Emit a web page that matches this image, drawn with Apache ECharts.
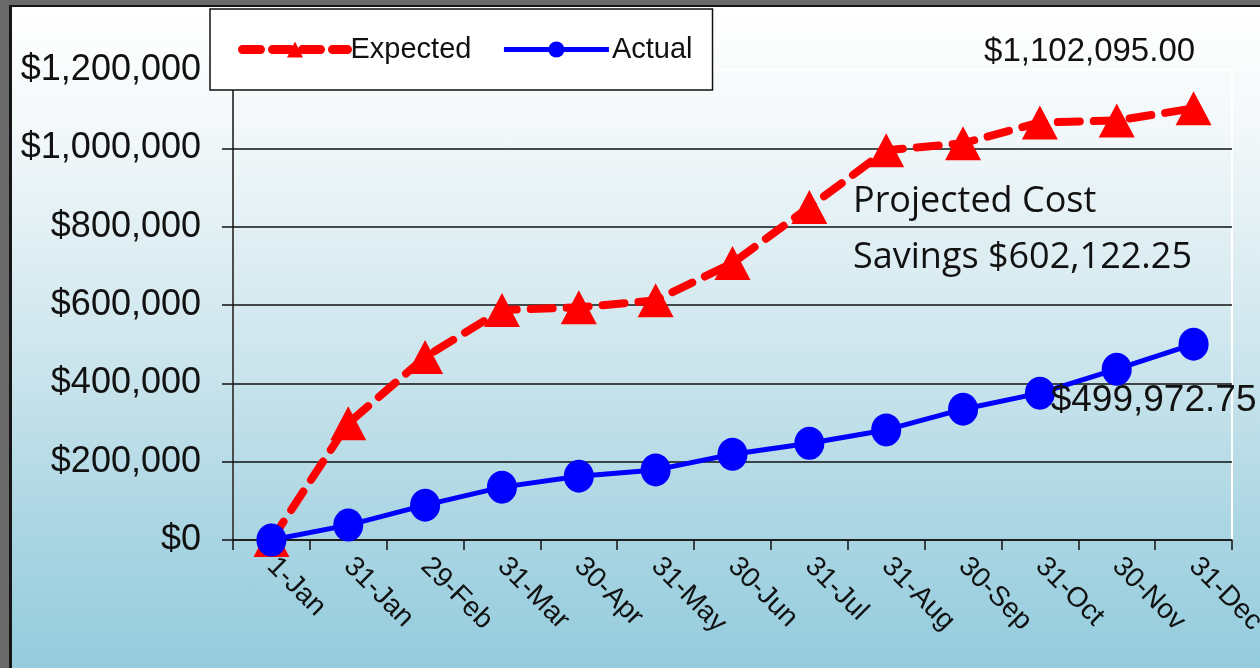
<!DOCTYPE html>
<html>
<head>
<meta charset="utf-8">
<script src="https://cdn.jsdelivr.net/npm/echarts@6/dist/echarts.min.js"></script>
<style>
  html, body { margin: 0; padding: 0; }
  #frame { position: absolute; left: 0; top: 0; width: 1260px; height: 668px; background: #6a6a6a; }
  #bg {
    position: absolute; left: 9px; top: 5px; right: 0; bottom: 0;
    border-left: 3px solid #151515; border-top: 2px solid #151515;
    background: linear-gradient(to bottom, #ffffff 0%, #f3f8fa 18%, #d0e7ee 50%, #acd6e3 78%, #94ccdd 100%);
  }
  #chart { position: absolute; left: 0; top: 0; width: 1260px; height: 668px; }
</style>
</head>
<body>
<div id="frame"><div id="bg"></div></div>
<div id="chart"></div>
<script>
  // categories and values
  var dates = ['1-Jan', '31-Jan', '29-Feb', '31-Mar', '30-Apr', '31-May', '30-Jun',
               '31-Jul', '31-Aug', '30-Sep', '31-Oct', '30-Nov', '31-Dec'];
  var expected = [0, 298000, 467000, 587000, 594000, 612000, 707000,
                  850000, 995000, 1013000, 1066000, 1071000, 1102095.00];
  var actual = [0, 38000, 89000, 135000, 163000, 179000, 219000,
                247000, 281000, 334000, 375000, 436000, 499972.75];
  var yTicks = [0, 200000, 400000, 600000, 800000, 1000000, 1200000];

  function money(v, dec) {
    return '$' + v.toLocaleString('en-US', { minimumFractionDigits: dec, maximumFractionDigits: dec });
  }

  var lastE = expected[expected.length - 1];
  var lastA = actual[actual.length - 1];
  var savings = lastE - lastA;

  var expData = expected.map(function (v, i) {
    if (i !== expected.length - 1) return v;
    return {
      value: v,
      label: {
        show: true, position: 'top', distance: 5, offset: [-104, -18],
        formatter: money(v, 2), color: '#111', fontSize: 33, fontFamily: 'Liberation Sans, Arial'
      }
    };
  });
  var actData = actual.map(function (v, i) {
    if (i !== actual.length - 1) return v;
    return {
      value: v,
      label: {
        show: true, position: 'bottom', distance: 5, offset: [-40, 17],
        formatter: money(v, 2), color: '#111', fontSize: 37, fontFamily: 'Liberation Sans, Arial'
      }
    };
  });

  var chart = echarts.init(document.getElementById('chart'));
  var options = {
    animation: false,
    textStyle: { fontFamily: 'Liberation Sans, Arial' },
    grid: {
      left: 233, right: 28, top: 70, bottom: 128,
      outerBoundsMode: 'none', containLabel: false,
      show: true, borderColor: '#ffffff', borderWidth: 2, backgroundColor: 'transparent'
    },
    legend: {
      left: 210, top: 9, width: 490, height: 81,
      padding: [26, 20, 26, 28],
      backgroundColor: '#fff', borderColor: '#111', borderWidth: 1.5,
      itemWidth: 105, itemHeight: 20, itemGap: 30,
      textStyle: { fontSize: 29, color: '#111', padding: [0, 0, 0, -2] },
      data: [
        { name: 'Expected', lineStyle: { width: 9, type: [18, 12], cap: 'round' } },
        { name: 'Actual', lineStyle: { width: 5 } }
      ]
    },
    xAxis: {
      type: 'category',
      data: dates,
      boundaryGap: true,
      axisLine: { lineStyle: { color: '#111', width: 1.5 } },
      axisTick: { show: true, length: 10, lineStyle: { color: '#111', width: 1.5 } },
      axisLabel: { rotate: -45, fontSize: 28, color: '#111', margin: 22 }
    },
    yAxis: {
      type: 'value',
      min: yTicks[0], max: yTicks[yTicks.length - 1], interval: yTicks[1] - yTicks[0],
      axisLine: { show: true, lineStyle: { color: '#111', width: 1.5 } },
      axisTick: { show: true, length: 11, lineStyle: { color: '#111', width: 1.5 } },
      axisLabel: { fontSize: 36, color: '#111', margin: 32, formatter: function (v) { return money(v, 0); } },
      splitLine: {
        show: true,
        lineStyle: { width: 1.5, color: ['#111', '#111', '#111', '#111', '#111', '#111', 'rgba(0,0,0,0)'] }
      }
    },
    series: [
      {
        name: 'Expected', type: 'line', data: expData,
        symbol: 'triangle', symbolSize: [36, 34],
        itemStyle: { color: '#ff0000' },
        lineStyle: { color: '#ff0000', width: 8, type: [22, 14], cap: 'round' }
      },
      {
        name: 'Actual', type: 'line', data: actData,
        symbol: 'circle', symbolSize: [30, 33],
        itemStyle: { color: '#0000ff' },
        lineStyle: { color: '#0000ff', width: 5 }
      }
    ],
    graphic: [{
      type: 'text', left: 853, top: 174, z: 10,
      style: {
        text: 'Projected Cost\nSavings ' + money(savings, 2),
        font: '36px "Open Sans"', fill: '#111', lineHeight: 56
      }
    }]
  };
  chart.setOption(options);
</script>
</body>
</html>
